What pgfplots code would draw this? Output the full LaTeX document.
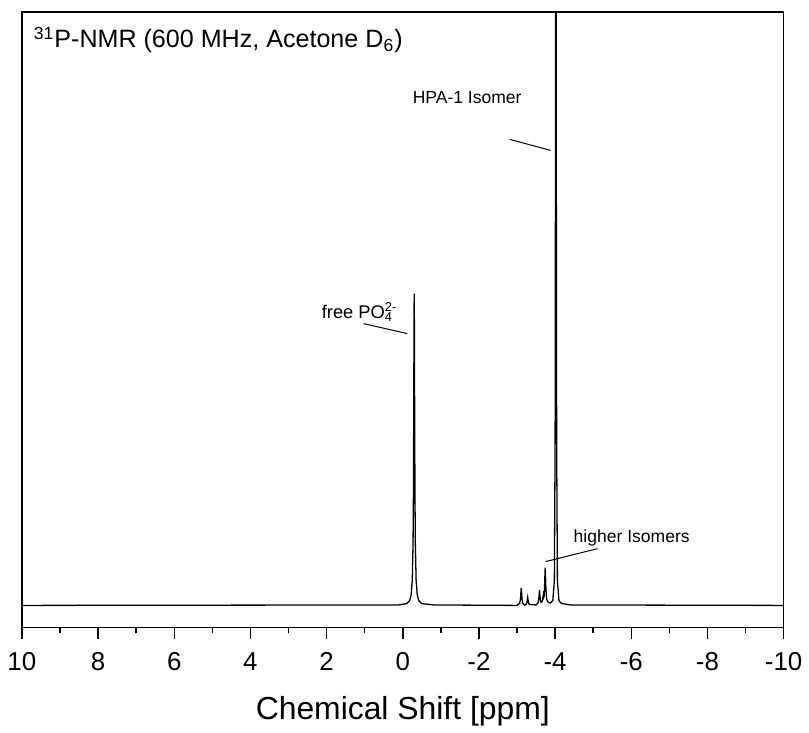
\documentclass[border=0pt]{standalone}
\usepackage{pgfplots}
\pgfplotsset{compat=1.18}
\usepackage{fontspec}
\setmainfont{Liberation Sans}
\begin{document}
\begin{tikzpicture}
\begin{axis}[
    scale only axis,
    width=382.5pt, height=309pt,
    x dir=reverse,
    xmin=-10, xmax=10,
    ymin=-22, ymax=596,
    xtick={10,8,...,-10},
    minor x tick num=1,
    ytick=\empty,
    xtick pos=bottom,
    tick align=outside,
    major tick length=6pt,
    minor tick length=3pt,
    axis line style={line width=0.75pt},
    every tick/.style={line width=0.75pt, black},
    tick label style={font=\fontsize{13}{15}\selectfont},
    xticklabel style={yshift=-3pt},
    /pgf/number format/assume math mode=true,
    xlabel={Chemical Shift [ppm]},
    xlabel style={font=\fontsize{16}{19}\selectfont, yshift=-6pt},
]
\addplot[black, line width=0.65pt, no marks] coordinates {
    (10,0) (0.1,0.5) (-0.10,1.8) (-0.18,4.8) (-0.22,10.6) (-0.25,25.8)
    (-0.27,62.6) (-0.28,112.7) (-0.29,216.7) (-0.295,281.7) (-0.30,313)
    (-0.305,281.7) (-0.31,216.7) (-0.32,112.7) (-0.33,62.6) (-0.35,25.8)
    (-0.38,10.6) (-0.42,4.8) (-0.50,1.8) (-0.8,0.5) (-3.0,0)
    (-3.07,2.2) (-3.09,6.3) (-3.10,12.2) (-3.11,17.6) (-3.12,12.2) (-3.13,6.3)
    (-3.15,2.2) (-3.20,0.3)
    (-3.24,1) (-3.26,2.9) (-3.27,5.5) (-3.28,8) (-3.29,5.5) (-3.30,2.9)
    (-3.32,1) (-3.50,0.5)
    (-3.55,2.5) (-3.57,6) (-3.58,11) (-3.59,15.5) (-3.60,11) (-3.61,6) (-3.63,3)
    (-3.66,4) (-3.68,8) (-3.69,10.5) (-3.70,8) (-3.71,9) (-3.72,15)
    (-3.73,28) (-3.74,38) (-3.75,28) (-3.76,15) (-3.78,6) (-3.82,3) (-3.88,2.5)
    (-3.94,5) (-3.98,25) (-4.00,166) (-4.01,470) (-4.015,800)
    (-4.02,1200) (-4.025,800) (-4.03,470) (-4.04,166) (-4.06,25) (-4.10,5)
    (-4.16,2) (-4.4,0.5) (-10,0)
};
\coordinate (bl) at (rel axis cs:0,0);
\coordinate (tl) at (rel axis cs:0,1);
% annotations
\node[anchor=west, font=\fontsize{12.6}{15}\selectfont] at (axis cs:9.87,568)
    {\textsuperscript{31}P-NMR (600 MHz, Acetone D\textsubscript{6})};
\node[font=\fontsize{8.8}{10}\selectfont] at (axis cs:-1.69,510) {HPA-1 Isomer};
\draw[line width=0.5pt] (axis cs:-2.81,468) -- (axis cs:-3.88,457);
\node[font=\fontsize{9.2}{10}\selectfont] at (axis cs:1.19,295)
    {free PO\rlap{\textsuperscript{2-}}\textsubscript{4}\hspace{0.5em}};
\draw[line width=0.5pt] (axis cs:1.03,283) -- (axis cs:-0.12,273);
\node[font=\fontsize{8.8}{10}\selectfont] at (axis cs:-6.01,68) {higher Isomers};
\draw[line width=0.5pt] (axis cs:-3.75,44) -- (axis cs:-5.11,57);
\end{axis}
\path (bl) ++(-11pt,0) (tl) ++(0,6pt);
\end{tikzpicture}
\end{document}
